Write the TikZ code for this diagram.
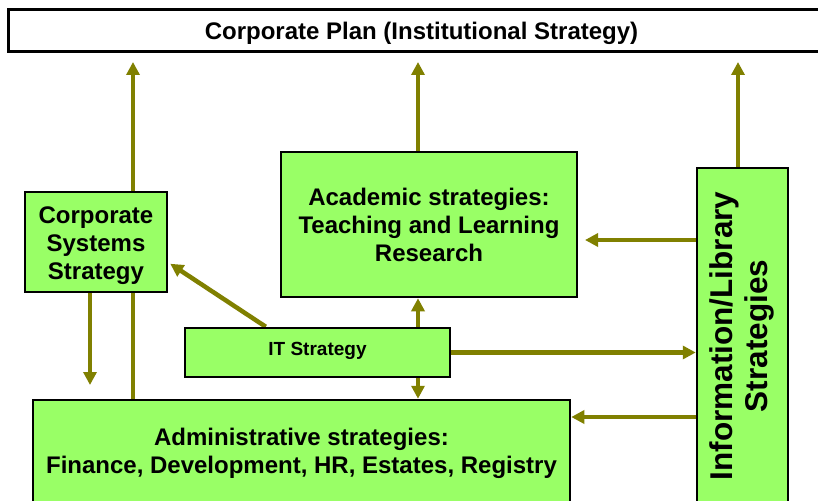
\documentclass[tikz,border=0pt]{standalone}
\usepackage{fontspec}
\setmainfont{Liberation Sans}
\usetikzlibrary{arrows.meta,calc}
\definecolor{boxgreen}{HTML}{99FF66}
\definecolor{olivearrow}{HTML}{808000}
\pgfdeclarelayer{back}
\pgfdeclarelayer{bg}
\pgfsetlayers{back,bg,main}
\newcommand{\shiftdown}[2]{\raisebox{-#1}[\height][\depth]{#2}}
\begin{document}
\begin{tikzpicture}[x=1pt,y=-1pt,
  gbox/.style={draw=black,line width=2.5pt,fill=boxgreen,inner sep=0pt,align=center,
    font=\bfseries\fontsize{24}{28}\selectfont},
  conn/.style={draw=olivearrow,line width=4.5pt,-{Triangle[length=13pt,width=13pt]}}]
\clip (0,0) rectangle (818,500);
\begin{pgfonlayer}{back}
\fill[white] (0,0) rectangle (818,500);
\end{pgfonlayer}

\node[draw=black,line width=3pt,fill=white,inner sep=0pt,minimum width=827pt,minimum height=42pt,
  font=\bfseries\fontsize{24}{28}\selectfont] (plan) at (421.5,31) {\shiftdown{2.5pt}{Corporate Plan (Institutional Strategy)}};

\node[gbox,minimum width=142pt,minimum height=100pt] (csys) at (96,242) {\shiftdown{3.5pt}{\begin{tabular}{@{}c@{}}Corporate\\Systems\\Strategy\end{tabular}}};
\node[gbox,minimum width=296pt,minimum height=145pt] (acad) at (429,224.5) {Academic strategies:\\Teaching and Learning\\Research};
\node[gbox,minimum width=265pt,minimum height=49pt,font=\bfseries\fontsize{19}{22}\selectfont] (it) at (317.5,352.5) {\shiftdown{-1.5pt}{IT Strategy}};
\node[gbox,minimum width=537pt,minimum height=104pt] (admin) at (301.5,452) {\shiftdown{2pt}{\begin{tabular}{@{}c@{}}Administrative strategies:\\Finance, Development, HR, Estates, Registry\end{tabular}}};
\node[gbox,minimum width=91pt,minimum height=336pt,font=\bfseries\fontsize{31.5}{37}\selectfont] (info) at (742.5,336)
  {\rotatebox{90}{\begin{tabular}{@{}c@{}}Information/Library\\[-2pt]Strategies\end{tabular}}};

\coordinate (t1) at (133,62);
\coordinate (t2) at (418,62);
\coordinate (t3) at (738,62);
\coordinate (c2) at (90,385);
\coordinate (a9) at (585,240);
\coordinate (a10) at (570,417);

\begin{pgfonlayer}{bg}
\draw[conn] (admin.north -| t1) -- (t1);
\draw[conn] (acad.north -| t2) -- (t2);
\draw[conn] (info.north -| t3) -- (t3);
\draw[conn] (csys.south -| c2) -- (c2);
\draw[conn] ($(it.north west)+(82,0)$) -- ($(csys.north east)+(2,73)$);
\draw[conn] (it.north -| t2) -- (acad.south -| t2);
\draw[conn] (it.south -| t2) -- (admin.north -| t2);
\draw[conn] (it.east) -- (it.east -| info.west);
\draw[conn] (a9 -| info.west) -- (a9);
\draw[conn] (a10 -| info.west) -- (admin.east |- a10);
\end{pgfonlayer}
\end{tikzpicture}
\end{document}
